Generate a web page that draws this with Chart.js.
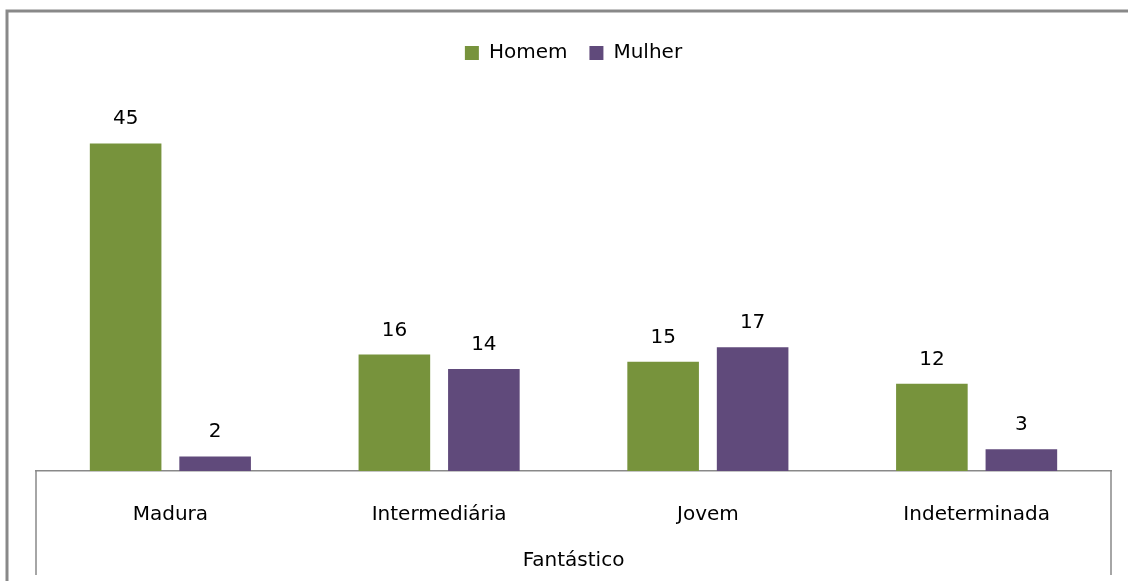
<!DOCTYPE html>
<html>
<head>
<meta charset="utf-8">
<script src="https://cdn.jsdelivr.net/npm/chart.js@4/dist/chart.umd.min.js"></script>
<style>
  html, body { margin: 0; padding: 0; background: #fff; }
  canvas { display: block; }
</style>
</head>
<body>
<canvas id="chart" width="1128" height="581"></canvas>
<script>
const categories = ['Madura', 'Intermediária', 'Jovem', 'Indeterminada'];
const homem = [45, 16, 15, 12];
const mulher = [2, 14, 17, 3];
const groupLabel = 'Fantástico';

const gray = '#898989';
const fontFamily = '"DejaVu Sans", sans-serif';

// Outer frame, bracket lines under the axis, group label and value labels
const decorations = {
  id: 'decorations',
  beforeInit(chart) {
    const origFit = chart.legend.fit;
    chart.legend.fit = function () {
      origFit.call(this);
      this.height += 34;
    };
  },
  afterDatasetsDraw(chart) {
    const { ctx, chartArea } = chart;
    ctx.save();
    ctx.fillStyle = '#000';
    ctx.font = '20px ' + fontFamily;
    ctx.textAlign = 'center';
    ctx.textBaseline = 'alphabetic';
    chart.data.datasets.forEach((ds, di) => {
      chart.getDatasetMeta(di).data.forEach((bar, i) => {
        ctx.fillText(String(ds.data[i]), bar.x, bar.y - 19);
      });
    });
    ctx.fillText(groupLabel, (chartArea.left + chartArea.right) / 2, 566);

    ctx.strokeStyle = gray;
    ctx.lineWidth = 1.5;
    ctx.beginPath();
    ctx.moveTo(chartArea.left, chartArea.bottom);
    ctx.lineTo(chartArea.left, 575);
    ctx.moveTo(chartArea.right, chartArea.bottom);
    ctx.lineTo(chartArea.right, 575);
    ctx.stroke();

    ctx.lineWidth = 3;
    ctx.strokeRect(7, 11, 1140, 600);
    ctx.restore();
  }
};

new Chart(document.getElementById('chart'), {
  type: 'bar',
  data: {
    labels: categories,
    datasets: [
      { label: 'Homem', data: homem, backgroundColor: '#77933C' },
      { label: 'Mulher', data: mulher, backgroundColor: '#604A7B' }
    ]
  },
  options: {
    responsive: false,
    animation: false,
    layout: { padding: { top: 21, left: 36, right: 17, bottom: 22 } },
    datasets: { bar: { categoryPercentage: 0.666, barPercentage: 0.8 } },
    plugins: {
      tooltip: { enabled: false },
      legend: {
        position: 'top',
        labels: {
          color: '#000',
          font: { family: fontFamily, size: 20 },
          boxWidth: 14,
          boxHeight: 14,
          padding: 22
        }
      }
    },
    scales: {
      x: {
        grid: { display: false, drawTicks: false },
        border: { display: true, color: gray, width: 1.5 },
        ticks: {
          color: '#000',
          font: { family: fontFamily, size: 20 },
          padding: 32,
          maxRotation: 0
        }
      },
      y: {
        display: false,
        min: 0,
        max: 50
      }
    }
  },
  plugins: [decorations]
});
</script>
</body>
</html>
